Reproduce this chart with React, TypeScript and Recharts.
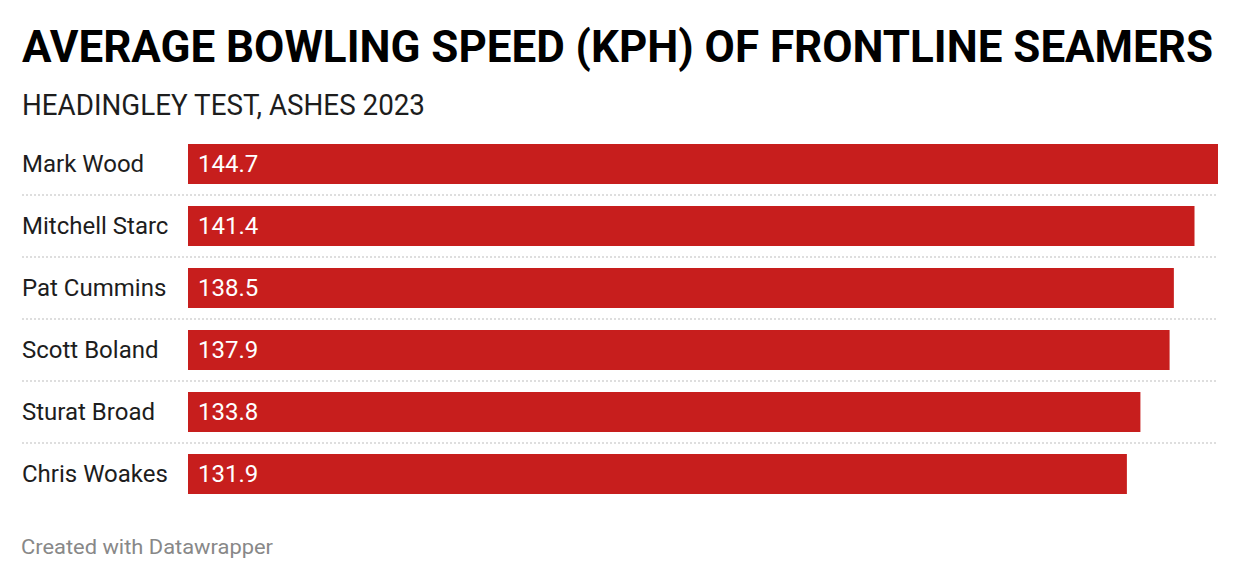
import React from "react";
import { BarChart, Bar, XAxis, YAxis, LabelList } from "recharts";

const players = ["Mark Wood", "Mitchell Starc", "Pat Cummins", "Scott Boland", "Sturat Broad", "Chris Woakes"];
const speeds = [144.7, 141.4, 138.5, 137.9, 133.8, 131.9];
const title = "AVERAGE BOWLING SPEED (KPH) OF FRONTLINE SEAMERS";
const subtitle = "HEADINGLEY TEST, ASHES 2023";
const footer = "Created with Datawrapper";

const data = players.map((name, i) => ({ name, speed: speeds[i] }));

const FONT = "Roboto, 'Noto Sans', sans-serif";

const PlayerTick = (props: any) => {
  const { y, payload, index } = props;
  const last = index === players.length - 1;
  return (
    <g>
      <text x={22} y={y} dy={8.3} fontSize={24} fontFamily={FONT} fill="#1d1d1d" textAnchor="start">
        {payload.value}
      </text>
      {!last && (
        <line x1={22} x2={1218} y1={y + 31} y2={y + 31} stroke="#d4d4d4" strokeWidth={1.5} strokeDasharray="2 2" />
      )}
    </g>
  );
};

const ValueLabel = (props: any) => {
  const { x, y, height, value } = props;
  return (
    <text x={x + 10} y={y + height / 2} dy={8.3} fontSize={24} fontFamily={FONT} fill="#ffffff" textAnchor="start">
      {Number(value).toFixed(1)}
    </text>
  );
};

export default function App() {
  return (
    <div style={{ position: "absolute", left: 0, top: 0, width: 1240, height: 580, background: "#fff" }}>
      <BarChart
        width={1240}
        height={580}
        data={data}
        layout="vertical"
        margin={{ top: 133, right: 22, bottom: 75, left: 0 }}
        barCategoryGap={11}
      >
        <XAxis type="number" hide domain={[0, 144.7]} />
        <YAxis
          type="category"
          dataKey="name"
          width={188}
          axisLine={false}
          tickLine={false}
          tick={<PlayerTick />}
          interval={0}
        />
        <Bar dataKey="speed" fill="#c71e1d" isAnimationActive={false} barSize={40}>
          <LabelList dataKey="speed" content={<ValueLabel />} />
        </Bar>
      </BarChart>
      <svg width={1240} height={580} style={{ position: "absolute", left: 0, top: 0, pointerEvents: "none" }}>
        <text x={22} y={61.5} fontSize={45} fontWeight={700} fontFamily={FONT} fill="#000" textLength={1191} lengthAdjust="spacingAndGlyphs">
          {title}
        </text>
        <text x={22} y={115} fontSize={29} fontWeight={400} fontFamily={FONT} fill="#1d1d1d" textLength={403} lengthAdjust="spacingAndGlyphs">
          {subtitle}
        </text>
        <text x={21} y={554} fontSize={20} fontFamily={FONT} fill="#888888" textLength={252} lengthAdjust="spacingAndGlyphs">
          {footer}
        </text>
      </svg>
    </div>
  );
}
